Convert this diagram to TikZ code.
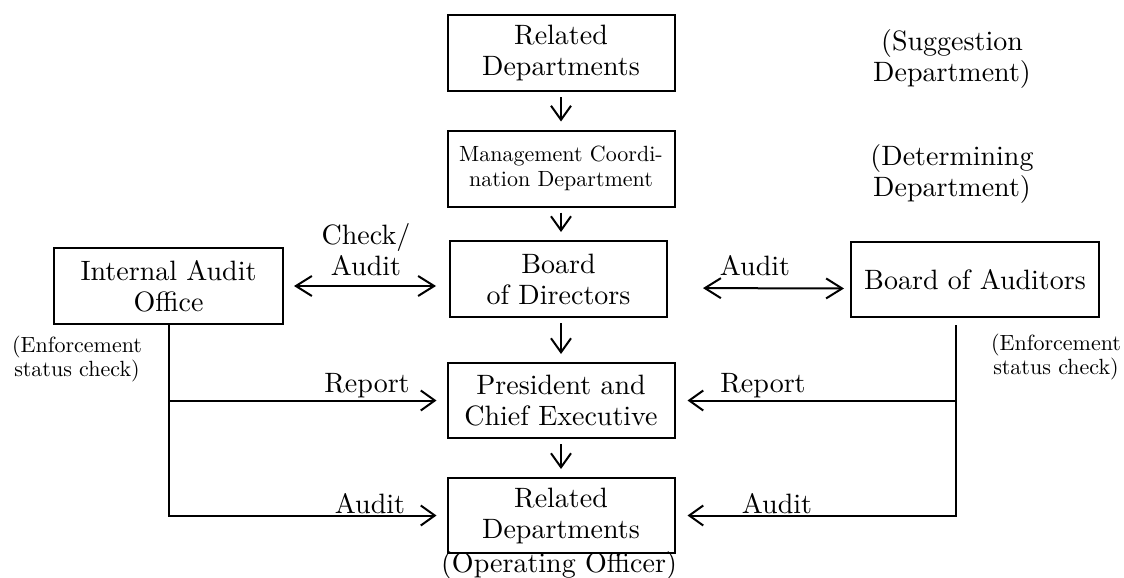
\documentclass[tikz,border=0pt]{standalone}
\usepackage{fontspec}
\setmainfont{lmroman10-regular.otf}
\usepackage{tikz}
\usetikzlibrary{arrows.meta, positioning, calc}

\begin{document}
\begin{tikzpicture}[
    x=1pt, y=-1pt,
    block/.style={rectangle, draw, line width=2pt, minimum width=227pt, minimum height=76pt, inner sep=0pt, align=center, font=\fontsize{28}{31}\selectfont},
    note/.style={align=center, inner sep=0pt, font=\fontsize{28}{31}\selectfont},
    smallnote/.style={align=center, inner sep=0pt, font=\fontsize{22}{24}\selectfont},
    arrow/.style={-{Straight Barb[length=14pt, width=20pt]}, line width=2pt},
    downarrow/.style={arrow, shorten <=5pt, shorten >=8pt},
    doublearrow/.style={{Straight Barb[length=16pt, width=20pt]}-{Straight Barb[length=16pt, width=20pt]}, line width=2pt}
]
\useasboundingbox (0,0) rectangle (1124,578);

% Centre column
\node[block] (reltop) at (561,53) {Related\\Departments};
\node[block, font=\fontsize{22}{25}\selectfont] (mcd) at (561,168.5) {Management Coordi-\\nation Department};
\node[block, minimum width=217pt] (board) at (558.5,279) {Board\\of Directors};
\node[block, minimum height=75pt] (pres) at (561,400.5) {President and\\Chief Executive};
\node[block, minimum height=75pt] (relbot) at (561,515.5) {Related\\Departments};
\node[note, anchor=base] (oper) at (559,572) {(Operating Officer)};

% Side boxes
\node[block, minimum width=229pt] (iao) at (168.5,286) {Internal Audit\\Office};
\node[block, minimum width=248pt, minimum height=75pt] (boa) at (975,279.5) {Board of Auditors};

% Notes on the right
\node[note] (sugg) at (952,59) {(Suggestion\\Department)};
\node[note] (determ) at (952,173.5) {(Determining\\Department)};
\node[smallnote] (enfleft) at (77,359) {(Enforcement\\status check)};
\node[smallnote] (enfright) at (1056,357) {(Enforcement\\status check)};

% Arrows down the column
\draw[downarrow] (reltop) -- (mcd);
\draw[downarrow] (mcd.south) -- (mcd.south |- board.north);
\draw[downarrow] (board.south -| pres.north) -- (pres.north);
\draw[downarrow] (pres) -- (relbot);

% Audit links
\draw[doublearrow, shorten <=10pt, shorten >=13pt] (iao.east) -- (iao.east -| board.west);
\node[note] (chk) at (366,250) {Check/\\Audit};
\draw[doublearrow, shorten <=35pt, shorten >=6pt] ([yshift=-9pt]board.east) -- ([yshift=-9pt]boa.west);
\node[note, anchor=base] (audbd) at (755,275) {Audit};

% Left side - reports from the audit office
\draw[arrow, shorten >=10pt] (iao.south) |- (relbot.west);
\draw[arrow, shorten >=10pt] (iao.south |- pres.west) -- (pres.west);
\node[note, anchor=base] (repleft) at (367,392) {Report};
\node[note, anchor=base] (audleft) at (370,513) {Audit};

% Right side - reports from the auditors
\coordinate (bt) at ([xshift=-19pt, yshift=-7pt]boa.south);
\draw[arrow, shorten >=12pt] (bt) |- (relbot.east);
\draw[arrow, shorten >=12pt] (bt |- pres.east) -- (pres.east);
\node[note, anchor=base] (repright) at (763,392) {Report};
\node[note, anchor=base] (audright) at (777,513) {Audit};

\end{tikzpicture}
\end{document}
